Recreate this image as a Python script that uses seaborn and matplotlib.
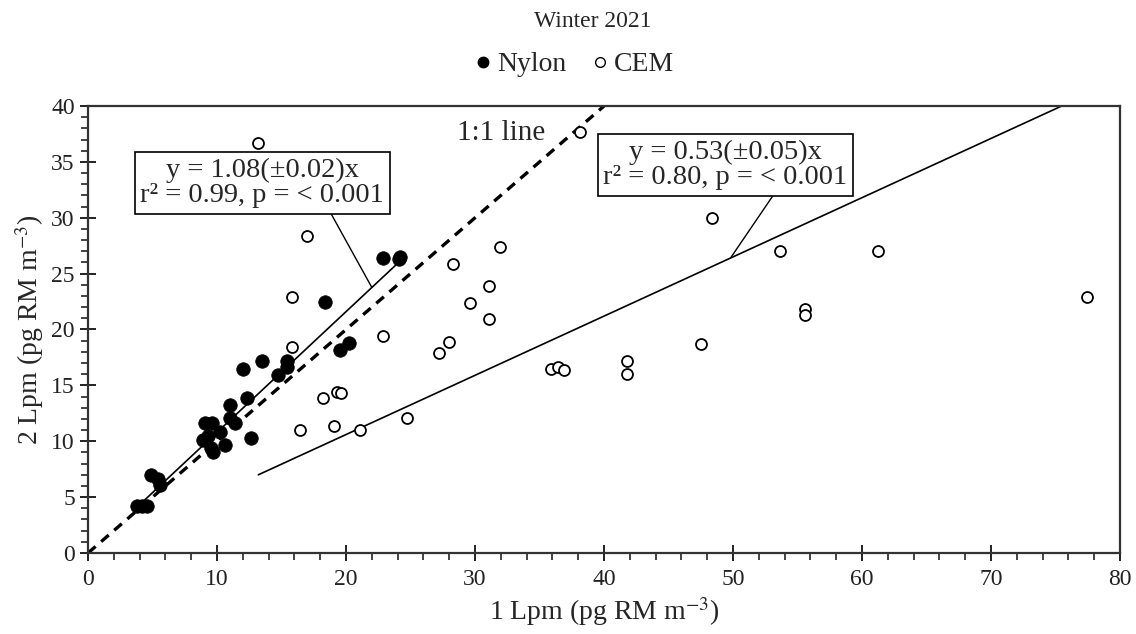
import numpy as np
import pandas as pd
import matplotlib
matplotlib.use("Agg")
import matplotlib.pyplot as plt
from matplotlib.lines import Line2D
from matplotlib.ticker import MultipleLocator
import seaborn as sns

# ---------------- data ----------------
nylon_x = [3.8, 4.2, 4.6, 4.9, 5.4, 5.6, 9.1, 9.6, 8.9, 9.3, 9.5, 9.7, 10.2, 10.6,
           11.0, 11.0, 11.4, 12.3, 12.6, 12.0, 13.5, 15.4, 15.4, 14.7, 18.4, 19.5,
           20.2, 22.9, 24.1, 24.2]
nylon_y = [4.2, 4.2, 4.2, 7.0, 6.6, 6.1, 11.6, 11.6, 10.1, 10.5, 9.4, 9.0, 10.8, 9.7,
           13.2, 12.1, 11.6, 13.9, 10.3, 16.5, 17.2, 17.2, 16.6, 15.9, 22.5, 18.2,
           18.8, 26.4, 26.3, 26.5]

cem_x = [13.2, 17.0, 15.8, 15.8, 16.4, 18.2, 19.3, 19.6, 19.1, 21.1, 22.9, 24.7,
         27.2, 28.0, 28.3, 29.6, 31.1, 31.1, 31.9, 35.9, 36.4, 36.9, 38.1, 41.8,
         41.8, 47.5, 48.4, 53.6, 55.6, 55.6, 61.2, 77.4]
cem_y = [36.7, 28.4, 22.9, 18.4, 11.0, 13.9, 14.4, 14.3, 11.4, 11.0, 19.4, 12.1,
         17.9, 18.9, 25.9, 22.4, 23.9, 20.9, 27.4, 16.5, 16.6, 16.4, 37.7, 17.2,
         16.0, 18.7, 30.0, 27.0, 21.8, 21.3, 27.0, 22.9]

nylon_slope = 1.08
cem_slope = 0.53

title = "Winter 2021"
series_names = ["Nylon", "CEM"]
xlabel = "1 Lpm (pg RM m$^{-3}$)"
ylabel = "2 Lpm (pg RM m$^{-3}$)"
nylon_eq = "y = 1.08(\u00b10.02)x\nr\u00b2 = 0.99, p = < 0.001"
cem_eq = "y = 0.53(\u00b10.05)x\nr\u00b2 = 0.80, p = < 0.001"
one_to_one = [0, 40]

# ---------------- style ----------------
sns.set_theme(style="ticks")
plt.rcParams["font.family"] = ["Liberation Serif", "DejaVu Serif"]
plt.rcParams["mathtext.fontset"] = "stix"
plt.rcParams["axes.edgecolor"] = "#333333"
plt.rcParams["axes.linewidth"] = 1.6

fig = plt.figure(figsize=(11.36, 6.34), dpi=100)
ax = fig.add_axes([0.0775, 0.1278, 0.9085, 0.705])

# 1:1 line
ax.plot(one_to_one, one_to_one, linestyle=(0, (3, 2.2)), color="black", lw=2.4, zorder=2)

# regression lines
xn = np.array([min(nylon_x), max(nylon_x)])
ax.plot(xn, nylon_slope * xn, color="black", lw=1.2, zorder=2)
xc = np.array([min(cem_x), max(cem_x)])
ax.plot(xc, cem_slope * xc, color="black", lw=1.2, zorder=2)

df_n = pd.DataFrame({"x": nylon_x, "y": nylon_y})
df_c = pd.DataFrame({"x": cem_x, "y": cem_y})
sns.scatterplot(data=df_c, x="x", y="y", ax=ax, marker="o", color="white",
                edgecolor="black", linewidth=1.3, s=62, zorder=3)
sns.scatterplot(data=df_n, x="x", y="y", ax=ax, marker="o", color="black",
                edgecolor="black", linewidth=0.5, s=95, zorder=4)

ax.set_xlim(0, 80)
ax.set_ylim(0, 40)
ax.xaxis.set_major_locator(MultipleLocator(10))
ax.xaxis.set_minor_locator(MultipleLocator(2))
ax.yaxis.set_major_locator(MultipleLocator(5))
ax.yaxis.set_minor_locator(MultipleLocator(1))
ax.tick_params(which="major", direction="inout", length=11, width=1.4,
               labelsize=17, colors="#222222", pad=4)
ax.tick_params(which="minor", direction="out", length=5, width=1.2, colors="#222222")
ax.tick_params(axis="x", which="major", pad=6)
for sp in ax.spines.values():
    sp.set_visible(True)

ax.set_xlabel(xlabel, fontsize=20, labelpad=4)
ax.set_ylabel(ylabel, fontsize=20, labelpad=4)

# annotations
bbox = dict(boxstyle="square,pad=0.2", fc="white", ec="black", lw=1.2)
ax.annotate(nylon_eq, xy=(22.0, nylon_slope * 22.0), xytext=(13.5, 33.1),
            ha="center", va="center", fontsize=20.5, linespacing=1.0, bbox=bbox,
            arrowprops=dict(arrowstyle="-", color="black", lw=1.0, shrinkA=0, shrinkB=0,
                            relpos=(0.77, 0.0)), zorder=5)
ax.annotate(cem_eq, xy=(49.8, cem_slope * 49.8), xytext=(49.4, 34.7),
            ha="center", va="center", fontsize=20.5, linespacing=1.0, bbox=bbox,
            arrowprops=dict(arrowstyle="-", color="black", lw=1.0, shrinkA=0, shrinkB=0,
                            relpos=(0.71, 0.0)), zorder=5)
ax.text(32.0, 37.6, "1:1 line", ha="center", va="center", fontsize=21, zorder=5)

# title & legend
fig.text(0.522, 0.966, title, ha="center", va="center", fontsize=17)
handles = [
    Line2D([], [], marker="o", linestyle="none", markerfacecolor="black",
           markeredgecolor="black", markersize=7.5),
    Line2D([], [], marker="o", linestyle="none", markerfacecolor="white",
           markeredgecolor="black", markeredgewidth=1.0, markersize=7),
]
fig.legend(handles, series_names, loc="center", bbox_to_anchor=(0.503, 0.898),
           ncol=2, frameon=False, fontsize=20, handletextpad=0.0,
           columnspacing=0.7, handlelength=1.0)

fig.savefig("out.png", dpi=100)
